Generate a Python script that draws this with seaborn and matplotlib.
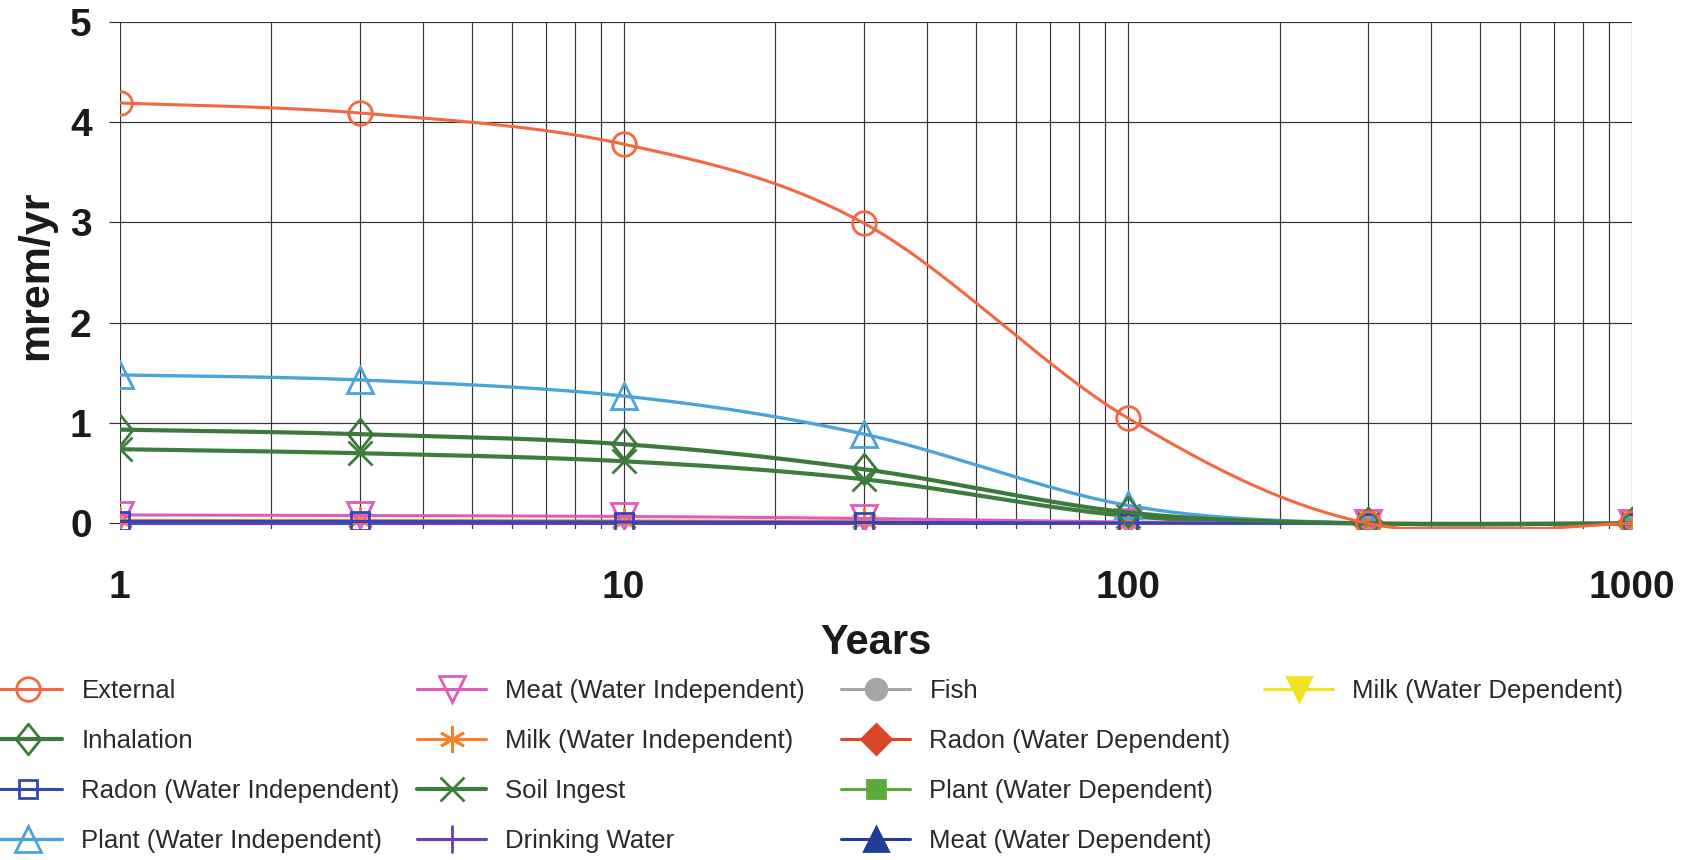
import matplotlib
matplotlib.use("Agg")
import numpy as np
import pandas as pd
import seaborn as sns
import matplotlib.pyplot as plt
from matplotlib.lines import Line2D
from matplotlib.path import Path
from matplotlib import ticker

# ---- data: dose (mrem/yr) by pathway over time (years) ----
years = [1, 3, 10, 30, 100, 300, 1000]
external = [4.19, 4.09, 3.78, 2.99, 1.05, 0.0, 0.0]
inhalation = [0.935, 0.89, 0.79, 0.54, 0.11, 0.0, 0.0]
radon_wi = [0.02, 0.02, 0.015, 0.01, 0.004, 0.0, 0.0]
plant_wi = [1.48, 1.43, 1.27, 0.89, 0.18, 0.0, 0.0]
meat_wi = [0.085, 0.08, 0.07, 0.05, 0.015, 0.0, 0.0]
milk_wi = [0.03, 0.03, 0.025, 0.02, 0.005, 0.0, 0.0]
soil_ingest = [0.74, 0.70, 0.62, 0.44, 0.075, 0.0, 0.0]
drinking_water = [0.0, 0.0, 0.0, 0.0, 0.0, 0.0, 0.0]
fish = [np.nan, np.nan, np.nan, np.nan, np.nan, 0.0, 0.0]
radon_wd = [np.nan, np.nan, np.nan, np.nan, np.nan, 0.0, 0.0]
plant_wd = [np.nan, np.nan, np.nan, np.nan, np.nan, 0.0, 0.0]
meat_wd = [np.nan, np.nan, np.nan, np.nan, np.nan, 0.0, 0.0]
milk_wd = [np.nan, np.nan, np.nan, np.nan, np.nan, 0.0, 0.0]

series_names = [
    "External", "Inhalation", "Radon (Water Independent)", "Plant (Water Independent)",
    "Meat (Water Independent)", "Milk (Water Independent)", "Soil Ingest", "Drinking Water",
    "Fish", "Radon (Water Dependent)", "Plant (Water Dependent)", "Meat (Water Dependent)",
    "Milk (Water Dependent)",
]
series_values = [
    external, inhalation, radon_wi, plant_wi, meat_wi, milk_wi, soil_ingest,
    drinking_water, fish, radon_wd, plant_wd, meat_wd, milk_wd,
]

# ---- styling ----
tall_diamond = Path([(0, 1), (0.8, 0), (0, -1), (-0.8, 0), (0, 1)],
                    [Path.MOVETO, Path.LINETO, Path.LINETO, Path.LINETO, Path.CLOSEPOLY])
styles = {
    "External": dict(color="#F4673F", marker="o", open=True, ms=17, lw=2.2),
    "Inhalation": dict(color="#3B7A3B", marker=tall_diamond, open=True, ms=22, lw=3.0),
    "Radon (Water Independent)": dict(color="#3246B4", marker="s", open=True, ms=13, lw=2.2),
    "Plant (Water Independent)": dict(color="#4AA3D9", marker="^", open=True, ms=19, lw=2.4),
    "Meat (Water Independent)": dict(color="#E05CB8", marker="v", open=True, ms=19, lw=2.2),
    "Milk (Water Independent)": dict(color="#F5822A", marker=(6, 2, 0), open=False, ms=19, lw=2.2),
    "Soil Ingest": dict(color="#3F7D3F", marker="x", open=False, ms=17, lw=3.0),
    "Drinking Water": dict(color="#6A3FB5", marker="+", open=False, ms=20, lw=2.2),
    "Fish": dict(color="#A6A6A6", marker="o", open=False, ms=15, lw=2.2),
    "Radon (Water Dependent)": dict(color="#D9472B", marker="D", open=False, ms=15, lw=2.2),
    "Plant (Water Dependent)": dict(color="#5BAA3C", marker="s", open=False, ms=13, lw=2.2),
    "Meat (Water Dependent)": dict(color="#1F3C96", marker="^", open=False, ms=17, lw=2.2),
    "Milk (Water Dependent)": dict(color="#F2E21F", marker="v", open=False, ms=17, lw=2.2),
}

sns.set_theme(style="white")
plt.rcParams["font.family"] = ["Liberation Sans", "DejaVu Sans"]

W, H, DPI = 1703, 860, 100
fig = plt.figure(figsize=(W / DPI, H / DPI), dpi=DPI)

YMIN, YMAX = -0.05, 5.0
ax_left, ax_right = 119.5, 1632.0
ax_top, ax_bottom = 21.7, 528.5
ax = fig.add_axes([ax_left / W, 1 - ax_bottom / H, (ax_right - ax_left) / W,
                   (ax_bottom - ax_top) / H])
ax_w_px = ax_right - ax_left
ax_h_px = ax_bottom - ax_top


def smooth_curve(xs, ys, n=40):
    """Smoothed line through the points (Bezier / Catmull-Rom in screen space)."""
    xs = np.asarray(xs, float)
    ys = np.asarray(ys, float)
    u = np.log10(xs) / 3.0 * ax_w_px
    v = (ys - YMIN) / (YMAX - YMIN) * ax_h_px
    pts = np.column_stack([u, v])
    ok = ~np.isnan(ys)
    out_u, out_v = [], []
    t = np.linspace(0, 1, n)
    for i in range(len(xs) - 1):
        if not (ok[i] and ok[i + 1]):
            continue
        p1, p2 = pts[i], pts[i + 1]
        p0 = pts[i - 1] if i > 0 and ok[i - 1] else p1
        p3 = pts[i + 2] if i + 2 < len(xs) and ok[i + 2] else p2
        c1 = p1 + (p2 - p0) / 6.0
        c2 = p2 - (p3 - p1) / 6.0
        b = ((1 - t) ** 3)[:, None] * p1 + (3 * (1 - t) ** 2 * t)[:, None] * c1 \
            + (3 * (1 - t) * t ** 2)[:, None] * c2 + (t ** 3)[:, None] * p2
        out_u.append(b[:, 0])
        out_v.append(b[:, 1])
    if not out_u:
        return np.array([]), np.array([])
    uu = np.concatenate(out_u)
    vv = np.clip(np.concatenate(out_v), 0, None)
    return 10 ** (uu / ax_w_px * 3.0), vv / ax_h_px * (YMAX - YMIN) + YMIN


handles = []
n_series = len(series_names)
for k, (name, vals) in enumerate(zip(series_names, series_values)):
    st = styles[name]
    z = 3 + (n_series - k)  # first series drawn on top
    sx, sy = smooth_curve(years, vals)
    if len(sx):
        sns.lineplot(x=sx, y=sy, ax=ax, color=st["color"], lw=st["lw"], sort=False,
                     estimator=None, zorder=z, legend=False)
    df = pd.DataFrame({"Years": years, "dose": vals}).dropna()
    mk = dict(marker=st["marker"], markersize=st["ms"], markeredgecolor=st["color"],
              markeredgewidth=2.0,
              markerfacecolor="none" if st["open"] else st["color"])
    sns.lineplot(data=df, x="Years", y="dose", ax=ax, linestyle="", sort=False,
                 estimator=None, zorder=z, legend=False, **mk)
    handles.append(Line2D([0], [0], color=st["color"], lw=st["lw"], **mk))

# ---- axes ----
ax.set_xscale("log")
ax.set_xlim(1, 1000)
ax.set_ylim(YMIN, YMAX)
ax.set_yticks([0, 1, 2, 3, 4, 5])
ax.xaxis.set_major_locator(ticker.FixedLocator([1, 10, 100, 1000]))
ax.xaxis.set_major_formatter(ticker.FixedFormatter(["1", "10", "100", "1000"]))
ax.xaxis.set_minor_locator(ticker.LogLocator(base=10, subs=np.arange(2, 10)))
ax.xaxis.set_minor_formatter(ticker.NullFormatter())
ax.grid(True, which="major", axis="both", color="#333333", lw=0.85)
ax.grid(True, which="minor", axis="x", color="#333333", lw=0.85)
for s in ax.spines.values():
    s.set_visible(False)
ax.tick_params(axis="y", which="major", left=True, length=8, width=0.85, color="#333333",
               pad=12, labelsize=28)
ax.tick_params(axis="x", which="both", bottom=False, pad=24, labelsize=28)
for lab in ax.get_xticklabels() + ax.get_yticklabels():
    lab.set_fontweight("bold")
    lab.set_color("#1a1a1a")
ax.set_xlabel("Years", fontsize=30, fontweight="bold", color="#1a1a1a", labelpad=12)
ax.set_ylabel("mrem/yr", fontsize=31, fontweight="bold", color="#1a1a1a", labelpad=10)

# ---- legend: four columns below the plot ----
col_x = [-7, 417, 841, 1264]
row_y = [691, 741, 791, 841]
columns = [[0, 1, 2, 3], [4, 5, 6, 7], [8, 9, 10, 11], [12]]
for ci, idxs in enumerate(columns):
    for ri, idx in enumerate(idxs):
        leg = fig.legend([handles[idx]], [series_names[idx]], loc="center left",
                         bbox_to_anchor=(col_x[ci] / W, 1 - row_y[ri] / H),
                         frameon=False, fontsize=18.5, borderpad=0, borderaxespad=0,
                         handlelength=2.7, handletextpad=0.74, numpoints=1)
        for txt in leg.get_texts():
            txt.set_color("#2a2a2a")

fig.savefig("out.png", dpi=DPI)
